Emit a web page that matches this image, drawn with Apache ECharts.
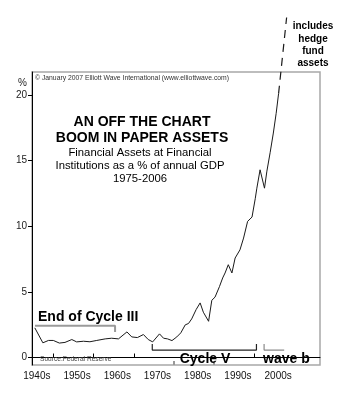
<!DOCTYPE html>
<html>
<head>
<meta charset="utf-8">
<script src="https://cdn.jsdelivr.net/npm/echarts@6/dist/echarts.min.js"></script>
<style>
  html, body { margin: 0; padding: 0; background: #fff; }
  #chart { width: 346px; height: 396px; }
</style>
</head>
<body>
<div id="chart"></div>
<script>
// Financial assets at financial institutions, % of annual GDP
var years = [1945.4, 1947.4, 1948.8, 1950.0, 1951.5, 1952.9, 1954.6, 1955.8, 1957.5, 1959.1,
             1960.8, 1962.9, 1964.5, 1966.2, 1968.3, 1969.5, 1970.9, 1972.4, 1973.6, 1974.7,
             1976.4, 1977.4, 1978.4, 1979.5, 1980.7, 1981.7, 1982.8, 1983.6, 1984.4, 1985.5,
             1986.5, 1987.3, 1988.6, 1989.4, 1990.2, 1991.3, 1992.1, 1992.7, 1993.5, 1994.4,
             1995.2, 1996.4, 1997.3, 1998.3, 1999.4, 2000.2, 2000.6, 2001.4, 2002.5, 2003.1,
             2003.9, 2004.7, 2005.4, 2006.0];
var values = [2.26, 1.12, 1.30, 1.30, 1.10, 1.15, 1.37, 1.19, 1.24, 1.20,
              1.30, 1.42, 1.47, 1.42, 1.95, 1.57, 1.52, 1.75, 1.37, 1.19,
              1.80, 1.47, 1.42, 1.29, 1.57, 1.88, 2.49, 2.59, 2.94, 3.65,
              4.16, 3.45, 2.76, 4.36, 4.60, 5.40, 6.06, 6.44, 7.07, 6.44,
              7.58, 8.20, 9.10, 10.37, 10.70, 12.10, 12.90, 14.30, 12.90, 14.20,
              15.60, 17.10, 18.60, 20.10];

// Extension including hedge fund assets
var hedgeYears = [2006.0, 2008.0];
var hedgeValues = [20.1, 25.9];

// Wave brackets (year, % level)
var cycle3Years = [1945.45, 1965.35, 1965.35];
var cycle3Values = [2.42, 2.42, 1.94];
var cycle5Years = [1974.6, 1974.6, 2000.5, 2000.5];
var cycle5Values = [1.03, 0.57, 0.57, 1.03];
var waveBYears = [2002.4, 2002.4, 2007.4];
var waveBValues = [1.03, 0.57, 0.57];

var yTicks = [0, 5, 10, 15, 20];
var decadeTicksBlack = [1950, 1960, 1970, 2000];
var decadeTicksGrey = [1980, 1990];
var decadeLabels = ['1940s', '1950s', '1960s', '1970s', '1980s', '1990s', '2000s'];

function pairs(xs, ys) {
  return xs.map(function (x, i) { return [x, ys[i]]; });
}
// Decade labels sit a little before the boundary tick of the following decade
var labelPositions = decadeLabels.map(function (s) { return parseInt(s, 10) + 5.9; });

var FONT = '"Liberation Sans", Arial, Helvetica, sans-serif';

function txt(text, x, y, size, opts) {
  opts = opts || {};
  return {
    type: 'text', silent: true, z: 10,
    style: {
      text: text, x: x, y: y,
      font: (opts.bold ? 'bold ' : '') + size + 'px ' + FONT,
      fill: opts.color || '#000',
      textAlign: opts.align || 'center',
      textVerticalAlign: 'middle'
    }
  };
}

var chart = echarts.init(document.getElementById('chart'), null, { renderer: 'canvas' });

chart.setOption({
  animation: false,
  backgroundColor: '#fff',
  textStyle: { fontFamily: FONT },
  grid: {
    left: 32, right: 26, top: 72, bottom: 31,
    show: true, borderColor: '#a8a8a8', borderWidth: 1.5, backgroundColor: 'transparent'
  },
  xAxis: [{
    type: 'value', min: 1944.7, max: 2016.3,
    splitLine: { show: false },
    axisLine: { lineStyle: { color: '#000', width: 1 } },
    axisTick: { customValues: decadeTicksBlack, inside: true, length: 4, lineStyle: { color: '#000' } },
    axisLabel: {
      customValues: labelPositions,
      formatter: function (v) { return Math.floor(v / 10) * 10 + 's'; },
      color: '#111', fontSize: 10, margin: 6, fontFamily: FONT
    }
  }, {
    type: 'value', min: 1944.7, max: 2016.3, position: 'bottom',
    splitLine: { show: false },
    axisLine: { show: false },
    axisTick: { customValues: decadeTicksGrey, inside: true, length: 4, lineStyle: { color: '#999', width: 2 } },
    axisLabel: { show: false }
  }],
  yAxis: {
    type: 'value', min: -0.57, max: 21.75,
    splitLine: { show: false },
    axisLine: { show: true, lineStyle: { color: '#000', width: 1 } },
    axisTick: { show: true, customValues: yTicks, length: 4, lineStyle: { color: '#000' } },
    axisLabel: { customValues: yTicks, color: '#222', fontSize: 10, margin: 5, fontFamily: FONT }
  },
  series: [{
    type: 'line', data: pairs(years, values), symbol: 'none',
    lineStyle: { color: '#1a1a1a', width: 1 }, z: 5
  }, {
    type: 'line', data: pairs(hedgeYears, hedgeValues), symbol: 'none', clip: false,
    lineStyle: { color: '#1a1a1a', width: 1.2, type: [8, 6] }, z: 5
  }, {
    type: 'line', data: pairs(cycle3Years, cycle3Values), symbol: 'none',
    lineStyle: { color: '#9a9a9a', width: 2 }, z: 4
  }, {
    type: 'line', data: pairs(cycle5Years, cycle5Values), symbol: 'none',
    lineStyle: { color: '#222', width: 1.2 }, z: 4
  }, {
    type: 'line', data: pairs(waveBYears, waveBValues), symbol: 'none',
    lineStyle: { color: '#8a8a8a', width: 1.2 }, z: 4
  }],
  graphic: [
    txt('\u00A9 January 2007 Elliott Wave International (www.elliottwave.com)', 35, 78, 6.8, { align: 'left', color: '#333' }),
    txt('%', 22.5, 83, 10, { color: '#222' }),
    txt('AN OFF THE CHART', 142, 122, 14, { bold: true }),
    txt('BOOM IN PAPER ASSETS', 142, 138, 14, { bold: true }),
    txt('Financial Assets at Financial', 140, 153, 11.3),
    txt('Institutions as a % of annual GDP', 140, 166, 11.3),
    txt('1975-2006', 140, 179, 11.3),
    txt('End of Cycle III', 38, 317, 14, { bold: true, align: 'left' }),
    txt('Cycle V', 205, 359, 14, { bold: true }),
    txt('wave b', 263, 359, 14, { bold: true, align: 'left' }),
    txt('Source:Federal Reserve', 40, 359.5, 6.6, { align: 'left', color: '#444' }),
    txt('includes', 313, 26, 10, { bold: true }),
    txt('hedge', 313, 39, 10, { bold: true }),
    txt('fund', 313, 51.5, 10, { bold: true }),
    txt('assets', 313, 63.5, 10, { bold: true })
  ]
});
</script>
</body>
</html>
